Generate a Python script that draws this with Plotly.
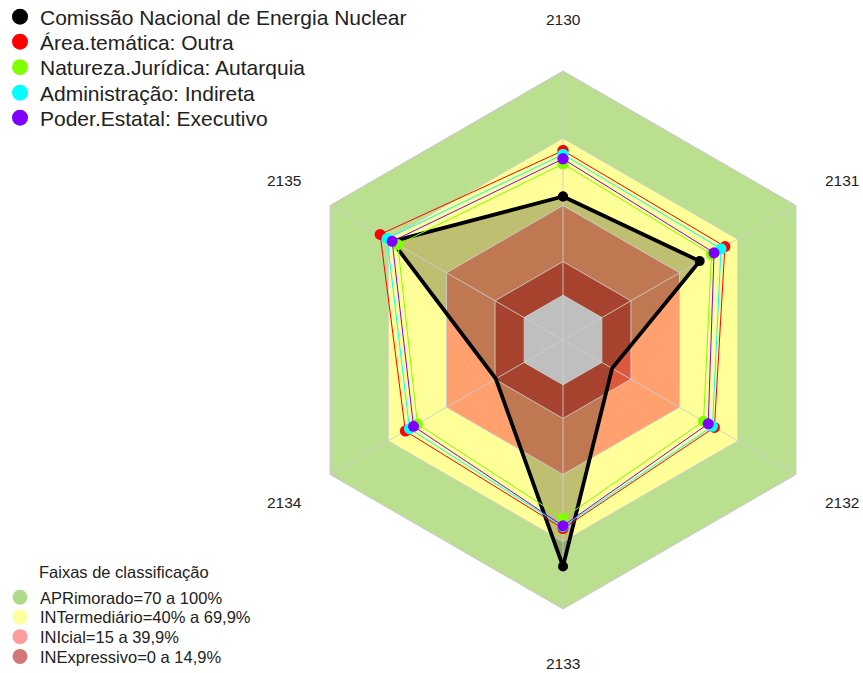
import numpy as np
import plotly.graph_objects as go

categories = ["2130", "2131", "2132", "2133", "2134", "2135"]

series_names = [
    "Comissão Nacional de Energia Nuclear",
    "Área.temática: Outra",
    "Natureza.Jurídica: Autarquia",
    "Administração: Indireta",
    "Poder.Estatal: Executivo",
]
cnen = [44, 50.4, 5.3, 81, 14.6, 68]
area_outra = [64.5, 63.4, 58, 64.1, 61.2, 74.2]
autarquia = [58.6, 56.5, 52.4, 59.6, 55, 65.1]
indireta = [62.8, 61.4, 57, 63.3, 59.1, 70.6]
executivo = [60.8, 57.8, 54.8, 62.9, 57, 68]
series_values = [cnen, area_outra, autarquia, indireta, executivo]
series_colors = ["#000000", "#FF0000", "#7FFF00", "#00FFFF", "#8000FF"]

legend_title = "Faixas de classificação"
band_names = [
    "APRimorado=70 a 100%",
    "INTermediário=40% a 69,9%",
    "INIcial=15 a 39,9%",
    "INExpressivo=0 a 14,9%",
]
band_upper = [100, 70, 40, 15]
band_fill = ["#BAE08F", "#FFFF99", "#FFA06E", "#DE583C"]
band_legend_colors = ["#AEDB88", "#FFFF9E", "#FF9C9C", "#D27777"]
grid_levels = [0, 15, 40, 70, 100]

radial_min, radial_max = -20, 100

W, H = 863, 673
cx, cy, R = 563, 340, 269          # polar domain placement (pixels)
lx, ly, LR = 563, 341.5, 268       # visual centre / radius for axis labels

fig = go.Figure()
theta_closed = categories + [categories[0]]
n_closed = len(theta_closed)

# classification bands
for up, col in zip(band_upper, band_fill):
    fig.add_trace(go.Scatterpolar(
        r=[up] * n_closed, theta=theta_closed,
        mode="lines", fill="toself", fillcolor=col,
        line=dict(width=0, color=col), showlegend=False, hoverinfo="skip"))
# inner (below 0) region stays white
fig.add_trace(go.Scatterpolar(
    r=[0] * n_closed, theta=theta_closed, mode="lines", fill="toself",
    fillcolor="white", line=dict(width=0, color="white"),
    showlegend=False, hoverinfo="skip"))

# shaded area of the main series
cn_closed = cnen + [cnen[0]]
fig.add_trace(go.Scatterpolar(
    r=cn_closed, theta=theta_closed, mode="lines", fill="toself",
    fillcolor="rgba(0,0,0,0.25)", line=dict(width=0, color="rgba(0,0,0,0)"),
    showlegend=False, hoverinfo="skip"))

# grid (drawn as thin lines over the bands)
grid_col = "rgba(205,205,205,0.9)"
for g in grid_levels:
    fig.add_trace(go.Scatterpolar(
        r=[g] * n_closed, theta=theta_closed, mode="lines",
        line=dict(width=1, color=grid_col), showlegend=False, hoverinfo="skip"))
for c in categories:
    fig.add_trace(go.Scatterpolar(
        r=[radial_min, 100], theta=[c, c], mode="lines",
        line=dict(width=1, color=grid_col), showlegend=False, hoverinfo="skip"))

# data series
for i, (name, vals, col) in enumerate(zip(series_names, series_values, series_colors)):
    rv = vals + [vals[0]]
    if i == 0:
        fig.add_trace(go.Scatterpolar(
            r=rv, theta=theta_closed, mode="lines+markers",
            line=dict(color=col, width=3.8), marker=dict(size=10, color=col),
            showlegend=False, name=name))
    else:
        fig.add_trace(go.Scatterpolar(
            r=rv, theta=theta_closed, mode="lines+markers",
            line=dict(color=col, width=1), marker=dict(size=11, color=col),
            showlegend=False, name=name))

# legends: one legend box per entry so the spacing matches the reference
top_keys = ["legend", "legend3", "legend4", "legend5", "legend6"]
top_y = [17.0, 42.0, 67.5, 93.0, 118.0]
bot_keys = ["legend2", "legend7", "legend8", "legend9"]
bot_y = [597.5, 617.2, 636.9, 656.7]

layout_legends = {}
for key, yy, name, col in zip(top_keys, top_y, series_names, series_colors):
    fig.add_trace(go.Scatterpolar(
        r=[None], theta=[None], mode="markers", name=name,
        marker=dict(size=16, color=col), legend=key, showlegend=True))
    layout_legends[key] = dict(
        x=0, y=1 - yy / H, xanchor="left", yanchor="middle",
        font=dict(size=21, color="#222222"), bgcolor="rgba(0,0,0,0)",
        itemsizing="trace")
for key, yy, name, col in zip(bot_keys, bot_y, band_names, band_legend_colors):
    fig.add_trace(go.Scatterpolar(
        r=[None], theta=[None], mode="markers", name=name,
        marker=dict(size=15, color=col), legend=key, showlegend=True))
    layout_legends[key] = dict(
        x=0, y=1 - yy / H, xanchor="left", yanchor="middle",
        font=dict(size=16.5, color="#222222"), bgcolor="rgba(0,0,0,0)",
        itemsizing="trace")

annotations = []
for i, c in enumerate(categories):
    ang = np.deg2rad(90 - 60 * i)
    px = lx + 1.2 * LR * np.cos(ang)
    py = ly - 1.2 * LR * np.sin(ang)
    annotations.append(dict(
        x=px / W, y=1 - py / H, xref="paper", yref="paper", text=c,
        showarrow=False, xanchor="center", yanchor="middle",
        font=dict(size=15.5, color="#222222")))
annotations.append(dict(
    x=124 / W, y=1 - 572 / H, xref="paper", yref="paper", text=legend_title,
    showarrow=False, xanchor="center", yanchor="middle",
    font=dict(size=16.5, color="#222222")))

fig.update_layout(
    width=W, height=H, autosize=False,
    margin=dict(l=0, r=0, t=0, b=0, autoexpand=False),
    paper_bgcolor="white", plot_bgcolor="white",
    font=dict(family="Liberation Sans, Arial, sans-serif", color="#222222"),
    polar=dict(
        domain=dict(x=[(cx - R) / W, (cx + R) / W],
                    y=[1 - (cy + R) / H, 1 - (cy - R) / H]),
        bgcolor="rgba(0,0,0,0)",
        gridshape="linear",
        radialaxis=dict(range=[radial_min, radial_max], tickvals=grid_levels,
                        showticklabels=False, ticks="", showline=False,
                        showgrid=False),
        angularaxis=dict(categoryorder="array", categoryarray=categories,
                         direction="clockwise", rotation=90,
                         showticklabels=False, ticks="", showgrid=False,
                         linecolor="#C8C8C8", linewidth=1),
    ),
    annotations=annotations,
    showlegend=True,
    **layout_legends,
)

fig.write_html("out.html", config={"displayModeBar": False},
               post_script="document.body.style.margin='0';document.body.style.overflow='hidden';")
